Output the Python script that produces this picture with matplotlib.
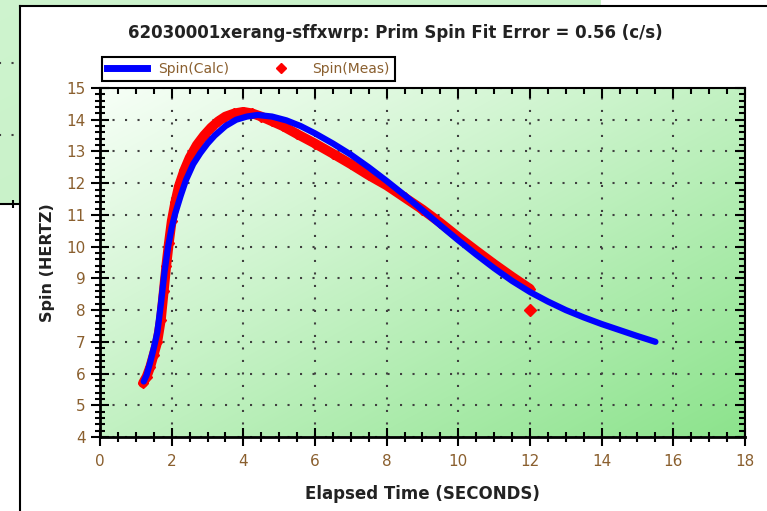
import matplotlib.pyplot as plt
import numpy as np
from matplotlib.lines import Line2D
from matplotlib.patches import Rectangle
from matplotlib.ticker import MultipleLocator

# fitted spin curve
calc_x = [1.22, 1.3, 1.4, 1.5, 1.6, 1.7, 1.8, 1.9, 2.0, 2.1, 2.25, 2.4, 2.6, 2.8,
          3.0, 3.2, 3.5, 3.8, 4.1, 4.4, 4.8, 5.2, 5.6, 6.0, 6.5, 7.0, 7.5, 8.0,
          8.5, 9.0, 9.5, 10.0, 10.5, 11.0, 11.5, 12.0, 12.5, 13.0, 13.5, 14.0,
          14.5, 15.0, 15.5]
calc_y = [5.75, 5.95, 6.35, 6.8, 7.3, 8.2, 9.2, 10.0, 10.6, 11.05, 11.6, 12.1,
          12.6, 12.95, 13.25, 13.5, 13.8, 14.0, 14.1, 14.15, 14.1, 13.98, 13.8,
          13.57, 13.25, 12.9, 12.5, 12.07, 11.62, 11.15, 10.67, 10.2, 9.75, 9.32,
          8.92, 8.57, 8.27, 8.0, 7.77, 7.56, 7.37, 7.18, 7.0]

# measured spin
meas_x = [1.2, 1.3, 1.4, 1.5, 1.6, 1.7, 1.78, 1.85, 1.92, 2.0, 2.1, 2.2, 2.35,
          2.5, 2.7, 2.9, 3.1, 3.3, 3.5, 3.75, 4.0, 4.25, 4.5, 4.8, 5.1, 5.5,
          6.0, 6.5, 7.0, 7.5, 8.0, 8.5, 9.0, 9.5, 10.0, 10.5, 11.0, 11.5, 12.0]
meas_y = [5.7, 5.9, 6.2, 6.6, 7.0, 7.7, 8.6, 9.4, 10.1, 10.8, 11.4, 11.9, 12.4,
          12.8, 13.2, 13.5, 13.75, 13.95, 14.1, 14.2, 14.25, 14.2, 14.1, 13.95,
          13.8, 13.55, 13.25, 12.93, 12.6, 12.25, 11.93, 11.55, 11.17, 10.75,
          10.3, 9.87, 9.45, 9.05, 8.67]
outlier_x = [12.0]
outlier_y = [8.0]

title = '62030001xerang-sffxwrp: Prim Spin Fit Error = 0.56 (c/s)'
tick_col = '#8a5f2e'
text_col = '#222222'

W, H = 767, 511
fig = plt.figure(figsize=(W / 100, H / 100), dpi=100)
fig.patch.set_facecolor('white')


def box(l, t, r, b):
    return [l / W, 1 - b / H, (r - l) / W, (b - t) / H]


def gradient(ax, c0, c1):
    u = np.linspace(0, 1, 200)
    t = (u[None, :] + u[:, None]) / 2
    c0 = np.array(c0)
    c1 = np.array(c1)
    img = c0 + t[..., None] * (c1 - c0)
    ax.imshow(img, extent=[0, 1, 0, 1], transform=ax.transAxes,
              aspect='auto', zorder=0, interpolation='bilinear')


# window behind the main one
bg = fig.add_axes(box(-5, -100, 600, 204), zorder=-2)
gradient(bg, (0.82, 0.96, 0.82), (0.76, 0.94, 0.76))
bg.set_xlim(-5, 600)
bg.set_ylim(204, -100)
for yy in [63, 135]:
    bg.axhline(yy, color='#404040', lw=1.5, ls=(0, (1, 5)), zorder=1)
for s in ['top', 'right', 'left']:
    bg.spines[s].set_visible(False)
bg.spines['bottom'].set_linewidth(1.5)
bg.set_xticks([13])
bg.set_yticks([])
bg.tick_params(axis='x', direction='inout', length=6, width=1.5, labelbottom=False)

# main window
fig.add_artist(Rectangle((20 / W, 0), (W - 20) / W, 1 - 6 / H, transform=fig.transFigure,
                         facecolor='white', edgecolor='none', zorder=-1))
fig.add_artist(Line2D([20 / W, 20 / W], [0, 1 - 6 / H], transform=fig.transFigure,
                      color='black', lw=1.5, zorder=-0.5))
fig.add_artist(Line2D([20 / W, 1], [1 - 6 / H, 1 - 6 / H], transform=fig.transFigure,
                      color='black', lw=1.5, zorder=-0.5))

ax = fig.add_axes(box(100, 88, 745, 437))
gradient(ax, (0.97, 1.0, 0.97), (0.55, 0.89, 0.55))

ax.plot(meas_x, meas_y, color='red', lw=7, solid_capstyle='round', zorder=2)
ax.plot(meas_x, meas_y, 'D', color='red', ms=5, zorder=2)
ax.plot(outlier_x, outlier_y, 'D', color='red', ms=6, zorder=2)
ax.plot(calc_x, calc_y, color='blue', lw=4.5, solid_capstyle='round', zorder=3)

ax.set_xlim(0, 18)
ax.set_ylim(4, 15)
ax.xaxis.set_major_locator(MultipleLocator(2))
ax.xaxis.set_minor_locator(MultipleLocator(0.5))
ax.yaxis.set_major_locator(MultipleLocator(1))
ax.yaxis.set_minor_locator(MultipleLocator(0.2))
ax.grid(True, which='major', color='#404040', lw=1.5, ls=(0, (1, 5)), zorder=1)

ax.tick_params(which='major', direction='inout', length=13, width=1.5,
               labelsize=11, labelcolor=tick_col, pad=4)
ax.tick_params(which='minor', direction='inout', length=7, width=1.5)
ax.tick_params(axis='x', which='major', pad=6)
for s in ['left', 'bottom']:
    ax.spines[s].set_linewidth(2)
for s in ['top', 'right']:
    ax.spines[s].set_linewidth(1.5)

# top / right ticks point inward only
ax2 = fig.add_axes(box(100, 88, 745, 437), sharex=ax, sharey=ax)
ax2.patch.set_visible(False)
for s in ax2.spines.values():
    s.set_visible(False)
ax2.tick_params(which='both', left=False, bottom=False, labelleft=False,
                labelbottom=False, top=True, right=True, direction='in', width=1.5)
ax2.tick_params(which='major', length=7)
ax2.tick_params(which='minor', length=4)

ax.set_xlabel('Elapsed Time (SECONDS)', fontsize=12, fontweight='bold', color=text_col,
              labelpad=11)
ax.set_ylabel('Spin (HERTZ)', fontsize=11.5, fontweight='bold', color=text_col,
              labelpad=8)
fig.text(395 / W, 1 - 33 / H, title, ha='center', va='center', fontsize=12,
         fontweight='bold', color=text_col)

handles = [Line2D([], [], color='blue', lw=5),
           Line2D([], [], color='red', marker='D', ms=5, ls='none')]
leg = ax.legend(handles, ['Spin(Calc)', 'Spin(Meas)'], ncol=2, loc='upper left',
                bbox_to_anchor=(102 / W, 1 - 57 / H), bbox_transform=fig.transFigure,
                fancybox=False, edgecolor='black', framealpha=1, borderpad=0.35,
                borderaxespad=0, handlelength=2.9, handletextpad=0.8,
                columnspacing=2.3, fontsize=10)
leg.get_frame().set_linewidth(1.5)
for t in leg.get_texts():
    t.set_color(tick_col)

fig.savefig('out.png', dpi=100)
